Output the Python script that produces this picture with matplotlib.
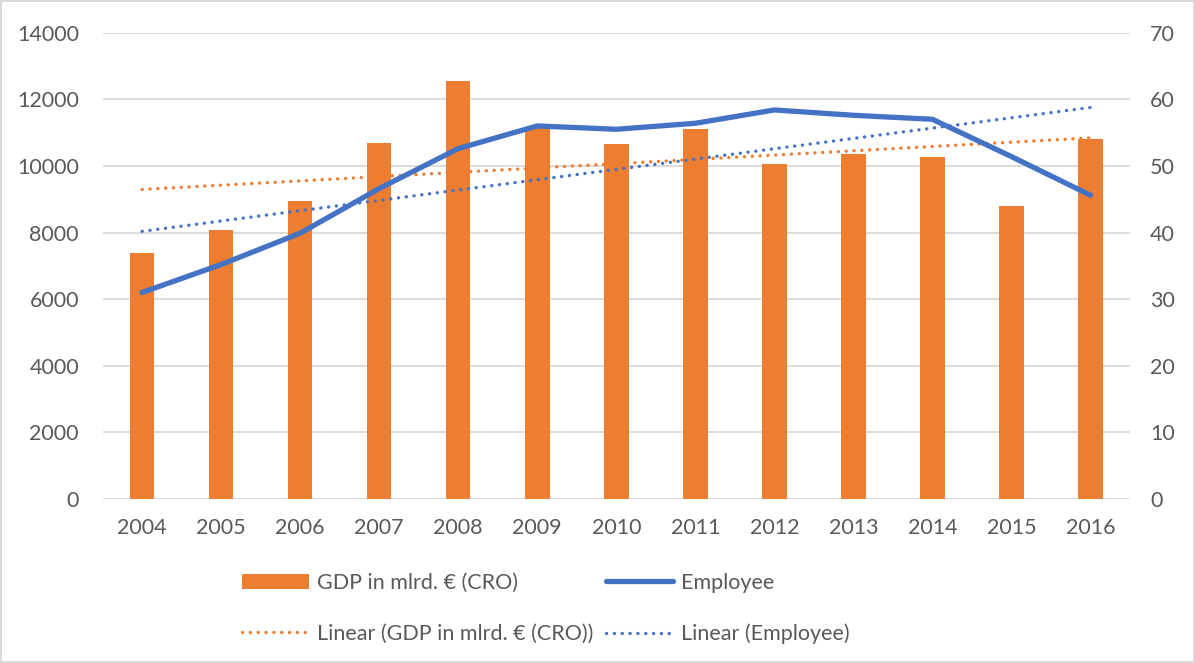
import numpy as np
import matplotlib
matplotlib.use("Agg")
import matplotlib.pyplot as plt
from matplotlib.lines import Line2D
from matplotlib.patches import Patch

years = ["2004", "2005", "2006", "2007", "2008", "2009", "2010",
         "2011", "2012", "2013", "2014", "2015", "2016"]
gdp = [7380, 8070, 8960, 10700, 12550, 11150, 10650,
       11100, 10060, 10350, 10270, 8810, 10820]
employee = [31.0, 35.2, 39.9, 46.6, 52.6, 56.0, 55.5,
            56.4, 58.4, 57.6, 57.0, 51.4, 45.6]
left_ticks = [0, 2000, 4000, 6000, 8000, 10000, 12000, 14000]
right_ticks = [0, 10, 20, 30, 40, 50, 60, 70]

ORANGE = "#ED7D31"
BLUE = "#4472C4"
TXT = "#595959"
GRID = "#D9D9D9"
FS = 15.5
DOT = (0, (0.05, 2.3))

plt.rcParams['font.family'] = ['Lato', 'DejaVu Sans']

fig = plt.figure(figsize=(11.95, 6.63), dpi=100)
fig.patch.set_edgecolor(GRID)
fig.patch.set_linewidth(1.5)

ax = fig.add_axes([102.6 / 1195, 0.2474, 1027.4 / 1195, 0.7033])
x = np.arange(len(years))

ax.bar(x, gdp, width=0.31, color=ORANGE, zorder=2)
cg = np.polyfit(x, gdp, 1)
ax.plot(x, np.polyval(cg, x), color=ORANGE, lw=2.4,
        linestyle=DOT, dash_capstyle='round', zorder=3)

ax.set_xlim(-0.5, len(years) - 0.5)
ax.set_ylim(0, 14000)
ax.set_yticks(left_ticks)
ax.set_yticklabels([str(v) for v in left_ticks])
ax.set_xticks(x)
ax.set_xticklabels(years)
ax.yaxis.grid(True, color=GRID, lw=1.3, zorder=0)
ax.set_axisbelow(True)
for s in ax.spines.values():
    s.set_visible(False)
ax.tick_params(axis='both', length=0, labelsize=FS, colors=TXT)
ax.tick_params(axis='y', pad=17)
ax.tick_params(axis='x', pad=14)

ax2 = ax.twinx()
ax2.plot(x, employee, color=BLUE, lw=3.8, solid_capstyle='round',
         solid_joinstyle='round', zorder=4)
ce = np.polyfit(x, employee, 1)
ax2.plot(x, np.polyval(ce, x), color=BLUE, lw=2.4,
         linestyle=DOT, dash_capstyle='round', zorder=3)
ax2.set_ylim(0, 70)
ax2.set_yticks(right_ticks)
ax2.set_yticklabels([str(v) for v in right_ticks])
for s in ax2.spines.values():
    s.set_visible(False)
ax2.tick_params(axis='y', length=0, labelsize=FS, colors=TXT, pad=14.5)
ax2.set_xlim(-0.5, len(years) - 0.5)

h1 = [Patch(facecolor=ORANGE, edgecolor='none'),
      Line2D([], [], color=ORANGE, lw=2.4, linestyle=DOT,
             dash_capstyle='round')]
l1 = ["GDP in mlrd. € (CRO)", "Linear (GDP in mlrd. € (CRO))"]
h2 = [Line2D([], [], color=BLUE, lw=3.8, solid_capstyle='round'),
      Line2D([], [], color=BLUE, lw=2.4, linestyle=DOT,
             dash_capstyle='round')]
l2 = ["Employee", "Linear (Employee)"]

common = dict(loc='upper left', frameon=False, fontsize=FS, borderpad=0,
              borderaxespad=0, handlelength=3.1, handleheight=0.7,
              handletextpad=0.37, labelspacing=1.42, labelcolor=TXT)
leg1 = fig.legend(h1, l1, bbox_to_anchor=(242 / 1195, 1 - 573 / 663), **common)
leg2 = fig.legend(h2, l2, bbox_to_anchor=(606 / 1195, 1 - 573 / 663), **common)

fig.savefig("out.png", dpi=100)
